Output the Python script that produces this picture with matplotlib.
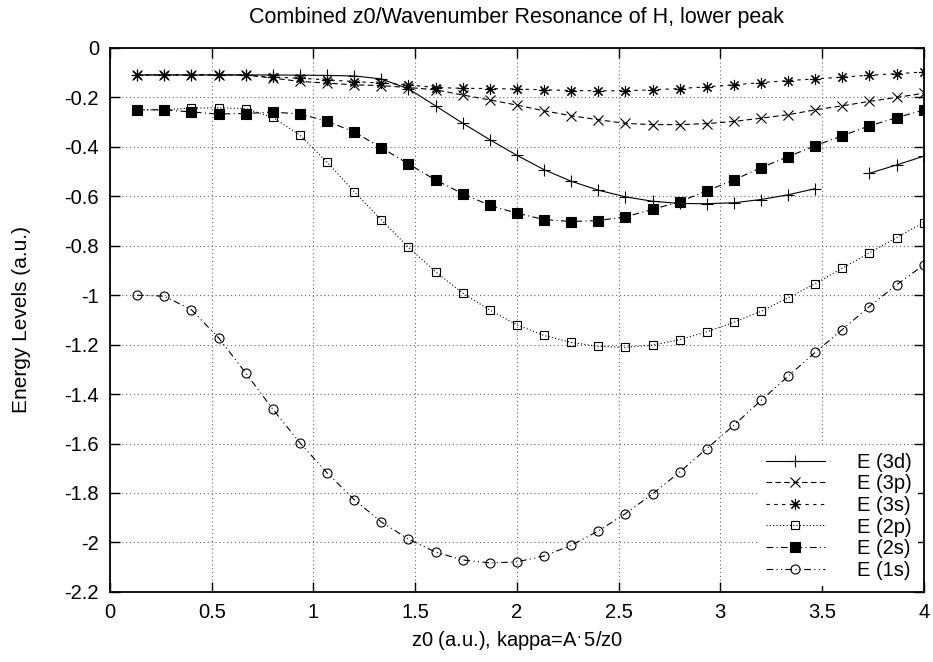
import numpy as np
import matplotlib
matplotlib.use("Agg")
import matplotlib.pyplot as plt

plt.rcParams['font.family'] = ['Liberation Sans', 'DejaVu Sans']
plt.rcParams['axes.unicode_minus'] = False

# z0 values (a.u.)
z0 = [0.133, 0.267, 0.4, 0.533, 0.667, 0.8, 0.933, 1.067, 1.2, 1.333,
      1.467, 1.6, 1.733, 1.867, 2.0, 2.133, 2.267, 2.4, 2.533, 2.667,
      2.8, 2.933, 3.067, 3.2, 3.333, 3.467, 3.6, 3.733, 3.867, 4.0]

e_3d = [-0.109, -0.109, -0.109, -0.109, -0.109, -0.109, -0.110, -0.111, -0.113, -0.125,
        -0.165, -0.234, -0.304, -0.371, -0.434, -0.492, -0.539, -0.575, -0.602, -0.620,
        -0.629, -0.630, -0.626, -0.613, -0.594, -0.569, np.nan, -0.507, -0.473, -0.438]
e_3p = [-0.109, -0.109, -0.109, -0.109, -0.109, -0.122, -0.135, -0.142, -0.149, -0.152,
        -0.160, -0.169, -0.190, -0.210, -0.231, -0.254, -0.274, -0.290, -0.305, -0.310,
        -0.310, -0.306, -0.297, -0.284, -0.270, -0.250, -0.234, -0.216, -0.200, -0.183]
e_3s = [-0.109, -0.109, -0.109, -0.109, -0.109, -0.118, -0.122, -0.129, -0.136, -0.142,
        -0.149, -0.160, -0.163, -0.164, -0.166, -0.169, -0.172, -0.173, -0.173, -0.169,
        -0.164, -0.157, -0.149, -0.140, -0.132, -0.125, -0.118, -0.110, -0.104, -0.097]
e_2p = [-0.250, -0.250, -0.243, -0.242, -0.245, -0.281, -0.352, -0.462, -0.581, -0.695,
        -0.806, -0.905, -0.991, -1.060, -1.120, -1.163, -1.191, -1.207, -1.211, -1.202,
        -1.180, -1.148, -1.110, -1.065, -1.011, -0.953, -0.891, -0.829, -0.767, -0.706]
e_2s = [-0.250, -0.250, -0.259, -0.267, -0.265, -0.259, -0.267, -0.296, -0.340, -0.403,
        -0.469, -0.534, -0.589, -0.637, -0.668, -0.694, -0.702, -0.698, -0.683, -0.653,
        -0.622, -0.578, -0.534, -0.484, -0.440, -0.395, -0.355, -0.315, -0.282, -0.251]
e_1s = [-1.000, -1.004, -1.059, -1.172, -1.315, -1.461, -1.597, -1.719, -1.827, -1.917,
        -1.987, -2.039, -2.071, -2.083, -2.079, -2.055, -2.012, -1.954, -1.884, -1.804,
        -1.716, -1.621, -1.526, -1.426, -1.328, -1.231, -1.139, -1.046, -0.958, -0.878]

labels = ["E (3d)", "E (3p)", "E (3s)", "E (2p)", "E (2s)", "E (1s)"]
xticks = [0, 0.5, 1, 1.5, 2, 2.5, 3, 3.5, 4]
yticks = [0, -0.2, -0.4, -0.6, -0.8, -1, -1.2, -1.4, -1.6, -1.8, -2, -2.2]

fs = 14.5

fig = plt.figure(figsize=(9.33, 6.62), dpi=100)
ax = fig.add_axes([0.118, 0.106, 0.872, 0.8215])

styles = [
    dict(ls='-', marker='+', ms=8, mfc='none'),
    dict(ls=(0, (5, 3)), marker='x', ms=6.5, mfc='none'),
    dict(ls=(0, (3, 4)), marker=(8, 2, 0), ms=8, mfc='none'),
    dict(ls=(0, (1, 2)), marker='s', ms=6.3, mfc='none'),
    dict(ls=(0, (6, 3, 1, 3)), marker='s', ms=6.5, mfc='black'),
    dict(ls=(0, (6, 3, 1, 3, 1, 3)), marker='o', ms=6.5, mfc='none'),
]
series = [e_3d, e_3p, e_3s, e_2p, e_2s, e_1s]

for ys, lab, st in zip(series, labels, styles):
    ax.plot(z0, ys, color='black', lw=0.8, mec='black', mew=0.8, label=lab, **st)

ax.set_xlim(0, 4)
ax.set_ylim(-2.2, 0)
ax.set_xticks(xticks)
ax.set_yticks(yticks)
ax.set_xticklabels([f"{t:g}" for t in xticks], fontsize=fs)
ax.set_yticklabels([f"{t:g}" for t in yticks], fontsize=fs)
ax.tick_params(direction='in', length=7, width=1, top=True, right=True, pad=8)
ax.grid(True, color='0.4', ls=(0, (1, 2.5)), lw=0.8)
for s in ax.spines.values():
    s.set_linewidth(1.3)

ax.set_title("Combined z0/Wavenumber Resonance of H, lower peak", fontsize=15.5, pad=18)
ax.set_xlabel("z0 (a.u.), kappa=A$^{.}$5/z0", fontsize=fs, labelpad=5)
ax.set_ylabel("Energy Levels (a.u.)", fontsize=15, labelpad=24)

leg = ax.legend(loc='lower right', fontsize=fs, frameon=True, fancybox=False,
                edgecolor='none', facecolor='white', framealpha=1,
                handlelength=2.9, handletextpad=1.6, labelspacing=0.13,
                borderpad=0.3, borderaxespad=0.3)

fig.savefig("out.png", dpi=100)
